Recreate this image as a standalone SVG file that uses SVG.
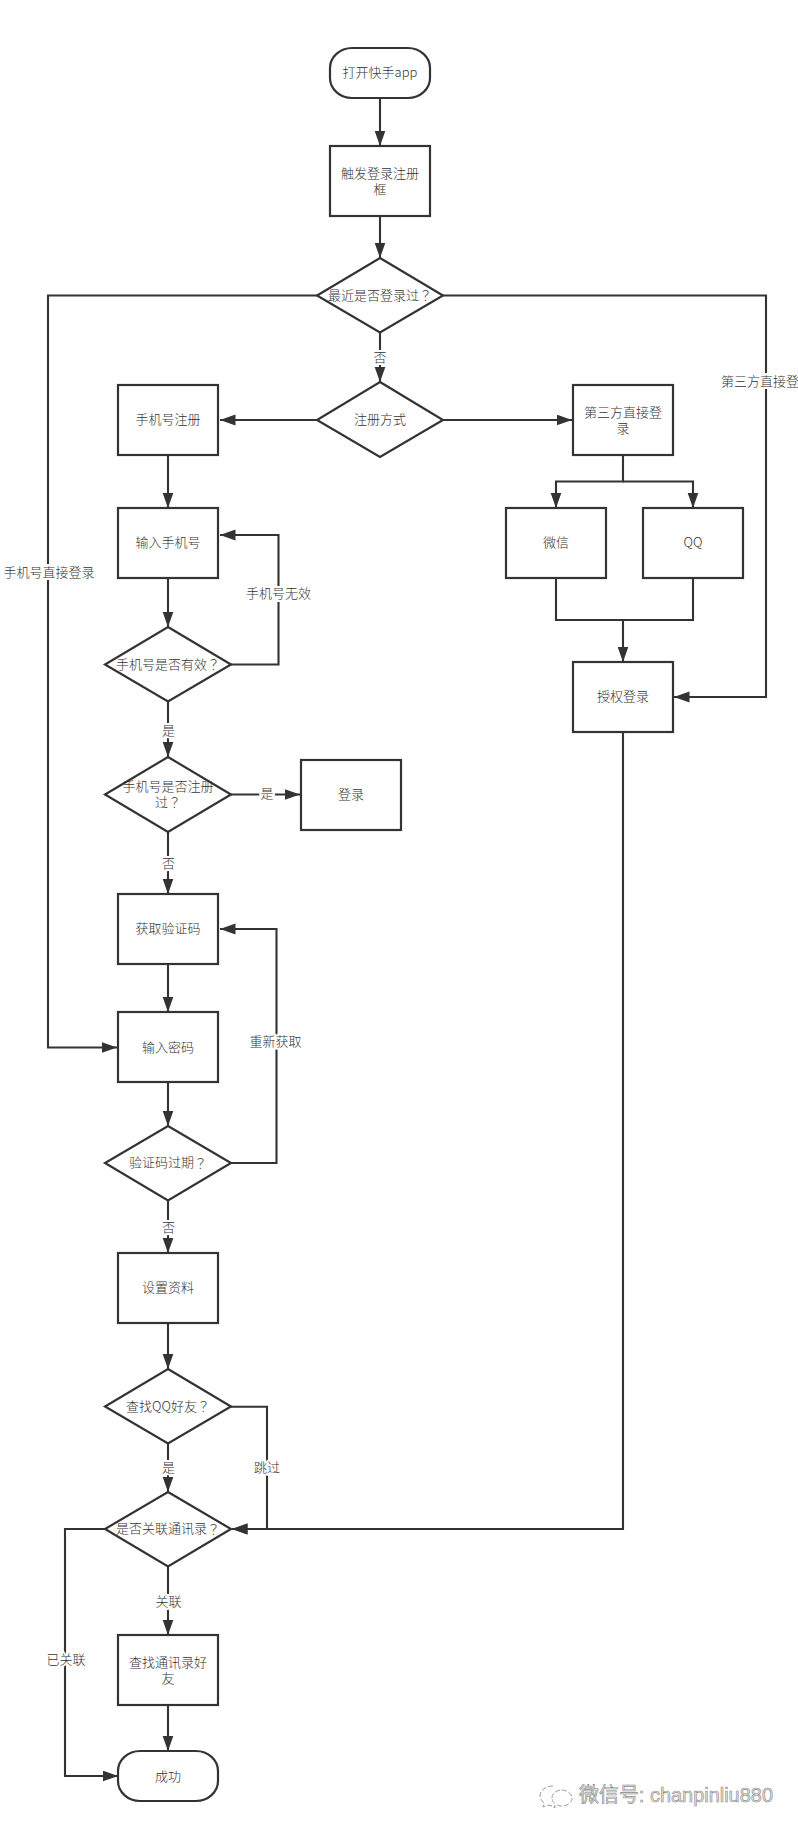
<svg xmlns="http://www.w3.org/2000/svg" width="798" height="1833" viewBox="0 0 798 1833">
<style>
.n{fill:#fff;stroke:#333;stroke-width:2.2}
.c{fill:none;stroke:#333;stroke-width:2.1}
text{font-family:"Noto Sans CJK SC","Liberation Sans",sans-serif;font-size:13px;font-weight:300;fill:#333;text-anchor:middle;dominant-baseline:central}
.q{font-family:"Noto Sans CJK TC","Noto Sans CJK SC",sans-serif}
.l{paint-order:stroke;stroke:#fff;stroke-width:4px}
.s{text-anchor:start}
.w{font-family:"Liberation Sans","Noto Sans CJK SC",sans-serif;font-size:20px;font-weight:400;fill:#e4e4e4;stroke:#8a8a8a;stroke-width:.6px;text-anchor:start}
.i{fill:none;stroke:#999;stroke-width:1;stroke-dasharray:5 2}
</style>
<defs>
<marker id="a" markerUnits="userSpaceOnUse" markerWidth="17" markerHeight="12" refX="15.500" refY="5.500" orient="auto"><path d="M0 0L15.500 5.500L0 11Z" fill="#333"/></marker>
</defs>
<rect width="798" height="1833" fill="#fff"/>
<g id="connectors">
<path class="c" marker-end="url(#a)" d="M380 98V146"/>
<path class="c" marker-end="url(#a)" d="M380 216V258"/>
<path class="c" marker-end="url(#a)" d="M380 332V382"/>
<path class="c" marker-end="url(#a)" d="M317 420H220"/>
<path class="c" marker-end="url(#a)" d="M443 420H572"/>
<path class="c" marker-end="url(#a)" d="M168 455V508"/>
<path class="c" marker-end="url(#a)" d="M623 455V481.500H556V508"/>
<path class="c" marker-end="url(#a)" d="M623 481.500H693V508"/>
<path class="c" d="M556 578V620H693V578"/>
<path class="c" marker-end="url(#a)" d="M623 620V662"/>
<path class="c" marker-end="url(#a)" d="M168 578V627"/>
<path class="c" marker-end="url(#a)" d="M231 664.500H278.500V535H220"/>
<path class="c" marker-end="url(#a)" d="M168 702V757"/>
<path class="c" marker-end="url(#a)" d="M231 794.500H300"/>
<path class="c" marker-end="url(#a)" d="M168 832V894"/>
<path class="c" marker-end="url(#a)" d="M168 964V1012"/>
<path class="c" marker-end="url(#a)" d="M168 1082V1126"/>
<path class="c" marker-end="url(#a)" d="M231 1163H276.500V929H220"/>
<path class="c" marker-end="url(#a)" d="M168 1201V1253"/>
<path class="c" marker-end="url(#a)" d="M168 1323V1369"/>
<path class="c" marker-end="url(#a)" d="M168 1443.500V1492"/>
<path class="c" marker-end="url(#a)" d="M231 1406.700H267V1529H232"/>
<path class="c" marker-end="url(#a)" d="M623 732V1529H232"/>
<path class="c" marker-end="url(#a)" d="M168 1566.500V1635"/>
<path class="c" marker-end="url(#a)" d="M168 1705V1751"/>
<path class="c" marker-end="url(#a)" d="M105 1529H65V1776H118"/>
<path class="c" marker-end="url(#a)" d="M317 295.500H48V1047.500H117"/>
<path class="c" marker-end="url(#a)" d="M443 295.500H766V697H674"/>
<text class="l" x="380" y="356.500">否</text>
<text class="l s" x="721" y="380.500">第三方直接登</text>
<text class="l" x="49" y="571">手机号直接登录</text>
<text class="l" x="278.500" y="592">手机号无效</text>
<text class="l" x="168.500" y="729">是</text>
<text class="l" x="267" y="792.500">是</text>
<text class="l" x="168.500" y="862">否</text>
<text class="l" x="275.500" y="1040">重新获取</text>
<text class="l" x="168.500" y="1226.500">否</text>
<text class="l" x="168.500" y="1466.500">是</text>
<text class="l" x="267" y="1466.500">跳过</text>
<text class="l" x="168.500" y="1600">关联</text>
<text class="l" x="66" y="1658">已关联</text>
</g>
<g id="start"><rect class="n" x="330" y="48" width="100" height="50" rx="22" ry="20"/><text x="380" y="71.500">打开快手app</text></g>
<g id="trigger"><rect class="n" x="330" y="146" width="100" height="70"/><text x="380" y="172">触发登录注册</text><text x="380" y="188">框</text></g>
<g id="d-recent"><path class="n" d="M380 258L443 295.500L380 332.500L317 295.500Z"/><text x="380" y="294">最近是否登录过<tspan class="q">？</tspan></text></g>
<g id="d-method"><path class="n" d="M380 382L443 420L380 457L317 420Z"/><text x="380" y="418.500">注册方式</text></g>
<g id="phone-reg"><rect class="n" x="118" y="385" width="100" height="70"/><text x="168" y="418.500">手机号注册</text></g>
<g id="third"><rect class="n" x="573" y="385" width="100" height="70"/><text x="623" y="411">第三方直接登</text><text x="623" y="427">录</text></g>
<g id="wechat"><rect class="n" x="506" y="508" width="100" height="70"/><text x="556" y="541.500">微信</text></g>
<g id="qq"><rect class="n" x="643" y="508" width="100" height="70"/><text x="693" y="541.500">QQ</text></g>
<g id="input-phone"><rect class="n" x="118" y="508" width="100" height="70"/><text x="168" y="541.500">输入手机号</text></g>
<g id="d-valid"><path class="n" d="M168 627L231 664.500L168 701.500L105 664.500Z"/><text x="168" y="663">手机号是否有效<tspan class="q">？</tspan></text></g>
<g id="auth"><rect class="n" x="573" y="662" width="100" height="70"/><text x="623" y="695.500">授权登录</text></g>
<g id="d-registered"><path class="n" d="M168 757L231 794.500L168 832L105 794.500Z"/><text x="168" y="785">手机号是否注册</text><text x="168" y="801">过<tspan class="q">？</tspan></text></g>
<g id="login"><rect class="n" x="301" y="760" width="100" height="70"/><text x="351" y="793">登录</text></g>
<g id="get-code"><rect class="n" x="118" y="894" width="100" height="70"/><text x="168" y="927.500">获取验证码</text></g>
<g id="input-pwd"><rect class="n" x="118" y="1012" width="100" height="70"/><text x="168" y="1046">输入密码</text></g>
<g id="d-expired"><path class="n" d="M168 1126L231 1163L168 1200.500L105 1163Z"/><text x="168" y="1161.500">验证码过期<tspan class="q">？</tspan></text></g>
<g id="profile"><rect class="n" x="118" y="1253" width="100" height="70"/><text x="168" y="1286.500">设置资料</text></g>
<g id="d-qq"><path class="n" d="M168 1369L231 1406.500L168 1443.500L105 1406.500Z"/><text x="168" y="1405">查找QQ好友<tspan class="q">？</tspan></text></g>
<g id="d-contacts"><path class="n" d="M168 1492L231 1529L168 1566.500L105 1529Z"/><text x="168" y="1527.500">是否关联通讯录<tspan class="q">？</tspan></text></g>
<g id="find-contacts"><rect class="n" x="118" y="1635" width="100" height="70"/><text x="168" y="1661">查找通讯录好</text><text x="168" y="1677">友</text></g>
<g id="success"><rect class="n" x="118" y="1751" width="100" height="50" rx="22" ry="20"/><text x="168" y="1775">成功</text></g>
<g id="watermark">
<path class="i" d="M553 1786c-7 0-13 4-13 10c0 3 2 5 4 7l-1 4l5-2c2 1 4 1 6 1"/>
<path class="i" d="M552 1798c0-5 5-8 10-8s10 4 10 8s-4 8-10 8c-1 0-3 0-4-1l-4 3l1-4c-2-2-3-4-3-6Z"/>
<text class="w" x="579" y="1795" textLength="194" lengthAdjust="spacingAndGlyphs">微信号: chanpinliu880</text>
</g>
</svg>
